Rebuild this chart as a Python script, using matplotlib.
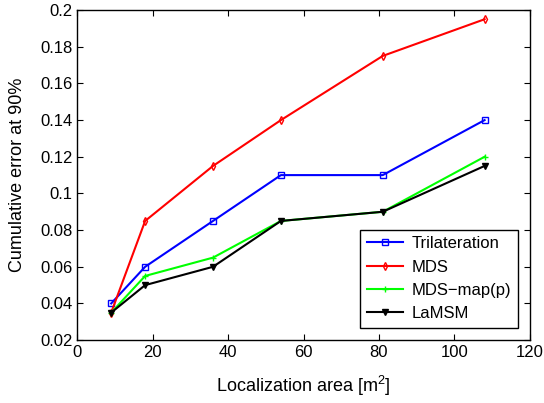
import matplotlib
matplotlib.use("Agg")
import matplotlib.pyplot as plt

plt.rcParams["font.family"] = ["Liberation Sans", "DejaVu Sans"]
plt.rcParams["mathtext.fontset"] = "custom"
plt.rcParams["mathtext.rm"] = "Liberation Sans"

area = [9, 18, 36, 54, 81, 108]
trilateration = [0.04, 0.06, 0.085, 0.11, 0.11, 0.14]
mds = [0.035, 0.085, 0.115, 0.14, 0.175, 0.195]
mds_map_p = [0.035, 0.055, 0.065, 0.085, 0.09, 0.12]
lamsm = [0.035, 0.05, 0.06, 0.085, 0.09, 0.115]

fig = plt.figure(figsize=(5.44, 4.03), dpi=100)
ax = fig.add_axes([0.142, 0.156, 0.832, 0.819])

ax.plot(area, trilateration, color="blue", marker="s", markersize=4,
        markerfacecolor="none", lw=1.5, label="Trilateration")
ax.plot(area, mds, color="red", marker="d", markersize=4,
        markerfacecolor="none", lw=1.5, label="MDS")
ax.plot(area, mds_map_p, color="#00ff00", marker="+", markersize=4,
        lw=1.5, label="MDS\u2212map(p)")
ax.plot(area, lamsm, color="black", marker="v", markersize=5,
        lw=1.5, label="LaMSM")

ax.set_xlim(0, 120)
ax.set_ylim(0.02, 0.2)
ax.set_xticks(range(0, 121, 20))
ax.set_yticks([0.02, 0.04, 0.06, 0.08, 0.1, 0.12, 0.14, 0.16, 0.18, 0.2])
ax.set_yticklabels(["0.02", "0.04", "0.06", "0.08", "0.1", "0.12", "0.14",
                    "0.16", "0.18", "0.2"])
ax.tick_params(direction="in", top=True, right=True, labelsize=12, length=4)
for s in ax.spines.values():
    s.set_linewidth(1.0)

ax.set_xlabel(r"Localization area [m$^2$]", fontsize=13, labelpad=10)
ax.set_ylabel("Cumulative error at 90%", fontsize=13, labelpad=10)

leg = ax.legend(loc="lower right", fontsize=12, fancybox=False,
                framealpha=1, edgecolor="black", borderpad=0.4,
                handlelength=2.2, handletextpad=0.5,
                bbox_to_anchor=(0.992, 0.012))
leg.get_frame().set_linewidth(1.0)

fig.savefig("out.png", dpi=100)
